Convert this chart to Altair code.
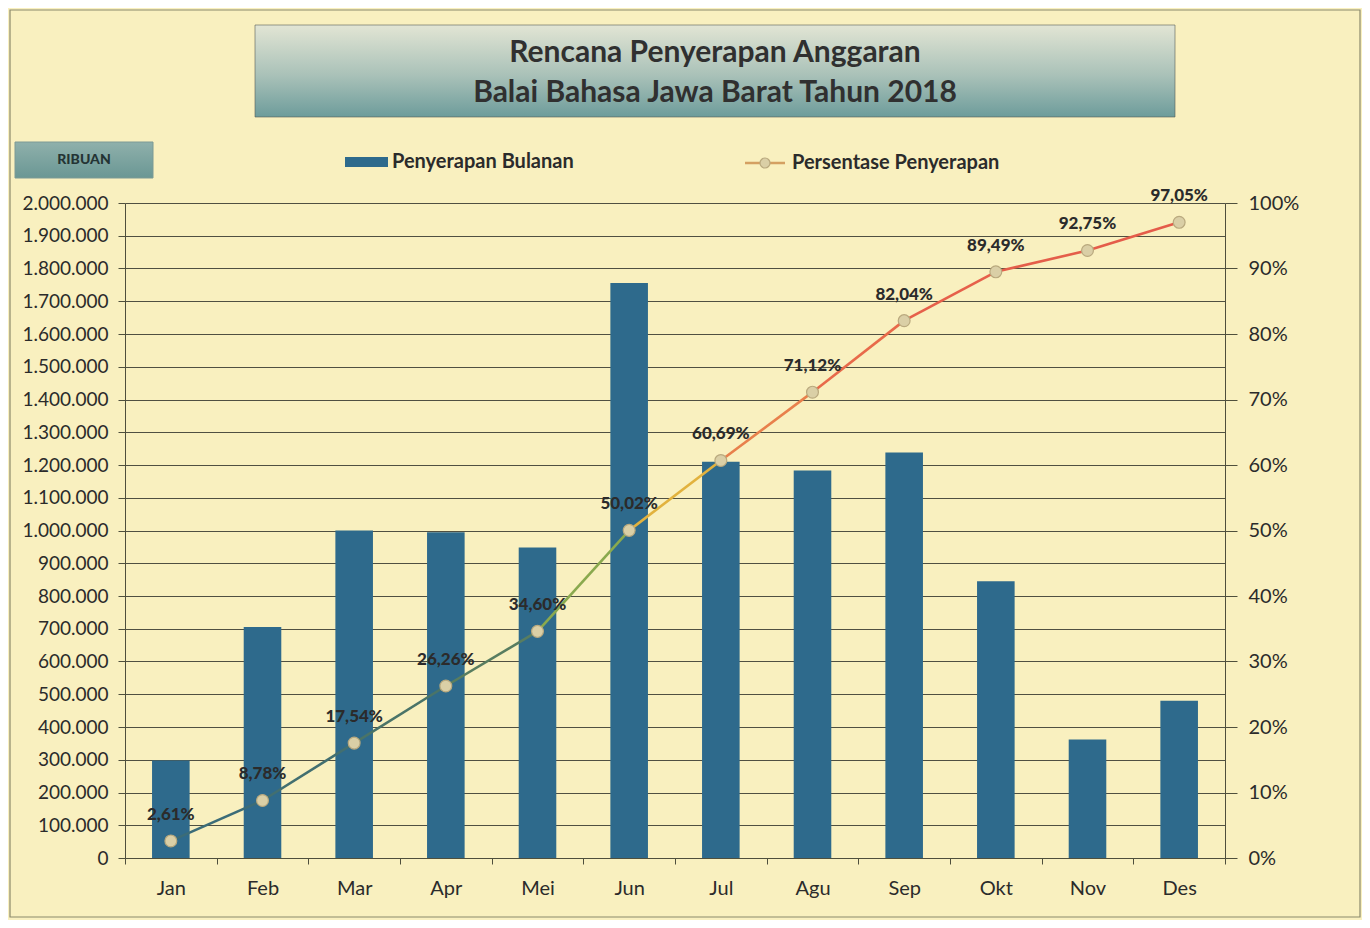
import altair as alt
import pandas as pd

bulan = ["Jan", "Feb", "Mar", "Apr", "Mei", "Jun", "Jul", "Agu", "Sep", "Okt", "Nov", "Des"]
penyerapan = [298000, 705000, 1000000, 995000, 948000, 1756000, 1210000, 1183000, 1238000, 845000, 362000, 480000]
persentase = [2.61, 8.78, 17.54, 26.26, 34.60, 50.02, 60.69, 71.12, 82.04, 89.49, 92.75, 97.05]
warna_segmen = ["#3b6c78", "#426f70", "#4a7468", "#587d60", "#8aa94e", "#e2b23e",
                "#e8804c", "#e86a4a", "#e6604a", "#e45e4a", "#e45c4a"]

judul = ["Rencana Penyerapan Anggaran", "Balai Bahasa Jawa Barat Tahun 2018"]
satuan = "RIBUAN"
legenda_bar = "Penyerapan Bulanan"
legenda_garis = "Persentase Penyerapan"

FONT = "Lato"
BG = "#f9f0bf"
BAR = "#2e6a8c"
INK = "#2b2b2b"
AX = "#4f4f3c"

df = pd.DataFrame({
    "Bulan": bulan,
    "Nilai": penyerapan,
    "Pct": [p / 100 for p in persentase],
    "Label": [f"{p:.2f}".replace(".", ",") + "%" for p in persentase],
})

seg_rows = []
for i, c in enumerate(warna_segmen):
    for j in (i, i + 1):
        seg_rows.append({"Bulan": bulan[j], "Pct": persentase[j] / 100, "seg": i, "warna": c})
seg = pd.DataFrame(seg_rows)

one = pd.DataFrame({"a": [0]})

xscale = alt.Scale(paddingInner=0, paddingOuter=0)
xenc = alt.X("Bulan:N", sort=bulan, title=None, scale=xscale,
             axis=alt.Axis(labelAngle=0, labelFont=FONT, labelFontSize=20, labelColor=INK,
                           labelPadding=14, tickBand="extent", tickSize=6, tickColor=AX,
                           domainColor=AX, grid=False))

bars = alt.Chart(df).mark_bar(color=BAR, width=alt.RelativeBandSize(0.41)).encode(
    x=xenc,
    y=alt.Y("Nilai:Q", title=None,
            scale=alt.Scale(domain=[0, 2000000], nice=False),
            axis=alt.Axis(values=list(range(0, 2000001, 100000)),
                          labelExpr="replace(replace(format(datum.value, ','), ',', '.'), ',', '.')",
                          labelFont=FONT, labelFontSize=19, labelColor=INK, labelPadding=10,
                          tickSize=7, tickColor=AX, domainColor=AX,
                          grid=True, gridColor="#47473a", gridWidth=1, gridOpacity=0.95)),
)

yp = alt.Y("Pct:Q", title=None, scale=alt.Scale(domain=[0, 1], nice=False),
           axis=alt.Axis(orient="right", values=[i / 10 for i in range(11)], format=".0%",
                         labelFont=FONT, labelFontSize=20, labelColor=INK, labelPadding=11,
                         tickSize=12, tickColor=AX, domainColor=AX, grid=False))

line = alt.Chart(seg).mark_line(strokeWidth=2.6).encode(
    x=alt.X("Bulan:N", sort=bulan, scale=xscale),
    y=yp,
    detail="seg:N",
    color=alt.Color("warna:N", scale=None),
)
points = alt.Chart(df).mark_point(filled=True, shape="circle", size=140, fill="#dacfa6",
                                  stroke="#b9a97e", strokeWidth=1.2, opacity=1).encode(
    x=alt.X("Bulan:N", sort=bulan, scale=xscale), y=yp)
labels = alt.Chart(df).mark_text(font=FONT, fontSize=17, fontWeight=900, color=INK,
                                 dy=-26).encode(
    x=alt.X("Bulan:N", sort=bulan, scale=xscale), y=yp, text="Label:N")

pct_layer = alt.layer(line, points, labels)

# decorative elements (title box, unit box, legend, frame)
frame = alt.Chart(one).mark_rect(fill=BG, fillOpacity=0, stroke="#8c8a6c", strokeWidth=1.2).encode(
    x=alt.value(-115), x2=alt.value(1235), y=alt.value(-193), y2=alt.value(714))

title_box = alt.Chart(one).mark_rect(
    fill=alt.LinearGradient(gradient="linear", x1=0, x2=0, y1=0, y2=1,
                            stops=[alt.GradientStop(color="#e2e5d4", offset=0),
                                   alt.GradientStop(color="#a9c1b8", offset=0.55),
                                   alt.GradientStop(color="#6d9c9b", offset=1)]),
    stroke="#555c55", strokeWidth=0.6).encode(
    x=alt.value(130), x2=alt.value(1050), y=alt.value(-178), y2=alt.value(-86))
title_df = pd.DataFrame({"t": judul, "yy": [-150, -110]})
title_text = alt.Chart(title_df).mark_text(font=FONT, fontSize=30, fontWeight="bold",
                                           color="#303030", align="center", baseline="middle").encode(
    x=alt.value(590), y=alt.Y("yy:Q", scale=None), text="t:N")

unit_box = alt.Chart(one).mark_rect(
    fill=alt.LinearGradient(gradient="linear", x1=0, x2=0, y1=0, y2=1,
                            stops=[alt.GradientStop(color="#8fb0ab", offset=0),
                                   alt.GradientStop(color="#6a9794", offset=1)]),
    stroke="#7d9a95", strokeWidth=1).encode(
    x=alt.value(-110), x2=alt.value(28), y=alt.value(-61), y2=alt.value(-25))
unit_text = alt.Chart(pd.DataFrame({"t": [satuan]})).mark_text(
    font=FONT, fontSize=14, fontWeight=900, color="#243434", align="center", baseline="middle").encode(
    x=alt.value(-41), y=alt.value(-43), text="t:N")

leg_bar = alt.Chart(one).mark_rect(fill=BAR).encode(
    x=alt.value(220), x2=alt.value(263), y=alt.value(-46), y2=alt.value(-36))
leg_bar_text = alt.Chart(pd.DataFrame({"t": [legenda_bar]})).mark_text(
    font=FONT, fontSize=20, fontWeight="bold", color=INK, align="left", baseline="middle").encode(
    x=alt.value(267), y=alt.value(-41), text="t:N")
leg_line = alt.Chart(one).mark_rule(color="#d4a062", strokeWidth=2.5).encode(
    x=alt.value(620), x2=alt.value(660), y=alt.value(-40))
leg_pt = alt.Chart(one).mark_point(filled=True, shape="circle", size=100, fill="#dacfa6",
                                   stroke="#b9a97e", strokeWidth=1.2, opacity=1).encode(
    x=alt.value(640), y=alt.value(-40))
leg_line_text = alt.Chart(pd.DataFrame({"t": [legenda_garis]})).mark_text(
    font=FONT, fontSize=20, fontWeight="bold", color=INK, align="left", baseline="middle").encode(
    x=alt.value(667), y=alt.value(-40), text="t:N")

deco = alt.layer(frame, title_box, title_text, unit_box, unit_text,
                 leg_bar, leg_bar_text, leg_line, leg_pt, leg_line_text)

chart = alt.layer(bars, pct_layer, deco).resolve_scale(y="independent").properties(
    width=1100, height=655,
    autosize=alt.AutoSizeParams(type="none"),
    padding={"left": 117, "top": 195, "right": 137, "bottom": 62},
    background=BG,
).configure_view(strokeWidth=0)

chart.save("out.html", embed_options={"renderer": "svg", "actions": False})
